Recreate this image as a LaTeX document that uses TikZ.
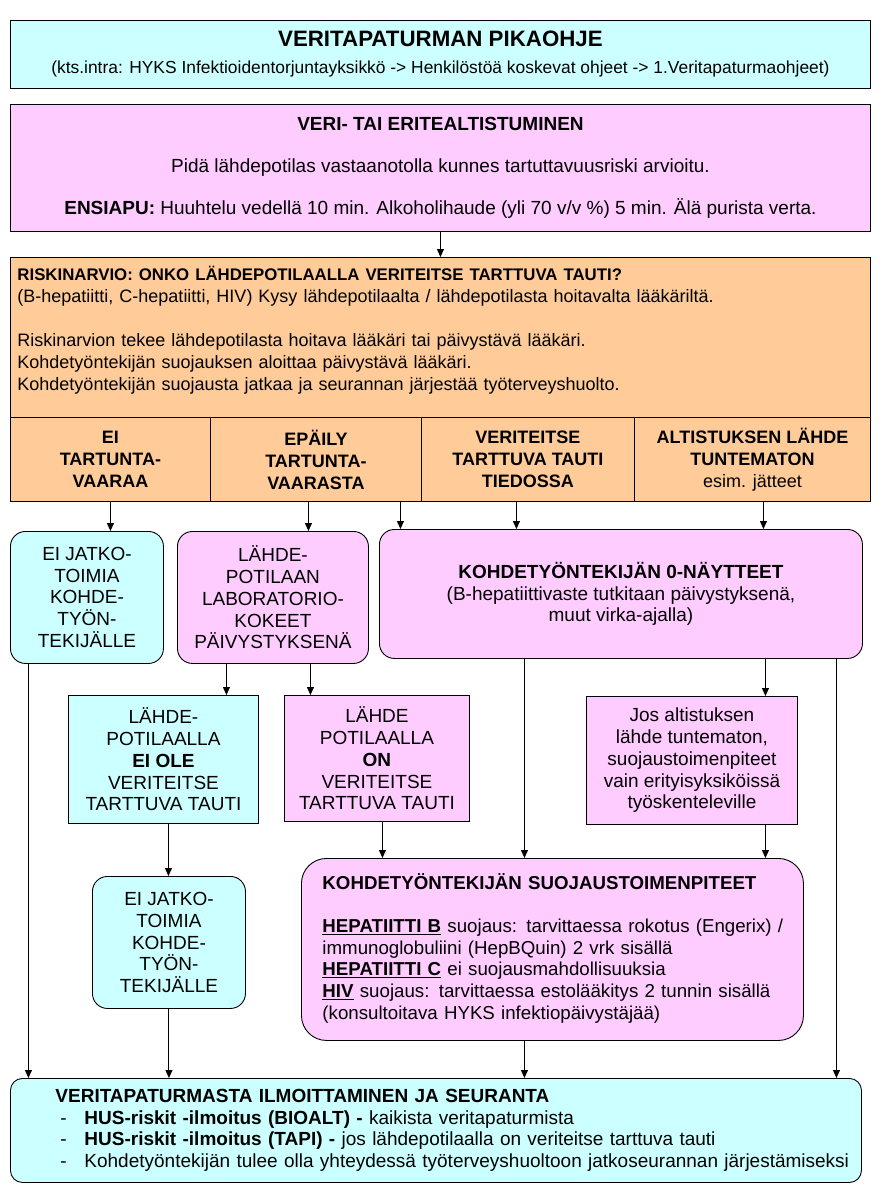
\documentclass[tikz,border=0pt]{standalone}
\usepackage{fontspec}
\setmainfont{Liberation Sans}
\usepackage{xcolor}
\definecolor{lightCyan}{HTML}{CCFFFF}
\definecolor{lightPink}{HTML}{FFCCFF}
\definecolor{lightOrange}{HTML}{FFCC99}
\usepackage{tikz}
\usetikzlibrary{
    arrows.meta,
    positioning
}
\tikzset{
    % Base style for all boxes
    box base/.style={
        draw=black,
        line width=0.9pt,
        align=center,
        inner sep=0pt,
        text=black,
        font=\fontsize{19}{22}\selectfont,
    },
    % Box colours
    cyanbox/.style={box base, fill=lightCyan},
    pinkbox/.style={box base, fill=lightPink},
    orangebox/.style={box base, fill=lightOrange},
    % Rounded variant for the action boxes
    round box/.style={rounded corners=15pt},
    % Text in the middle boxes
    big text/.style={font=\fontsize{19}{21.7}\selectfont},
    % Column headers in the risk box
    col head/.style={orangebox, font=\fontsize{18}{22}\selectfont\bfseries},
    % Arrow style
    arrow/.style={
        -{Triangle[length=8pt, width=7pt]},
        line width=1pt,
    },
}

\begin{document}
\begin{tikzpicture}[x=1pt, y=-1pt]
    \useasboundingbox (0,0) rectangle (882,1189);

    % header and exposure
    \node (title) [cyanbox, anchor=north west, minimum width=860pt, minimum height=68pt] at (10,20)
        {{\bfseries\fontsize{22.3}{26}\selectfont VERITAPATURMAN PIKAOHJE}\\[5pt]
         {\fontsize{17.4}{20}\selectfont (kts.intra: HYKS Infektioidentorjuntayksikkö -> Henkilöstöä koskevat ohjeet -> 1.Veritapaturmaohjeet)}};
    \node (veri) [pinkbox, anchor=north west, minimum width=860pt, minimum height=127pt] at (10,104)
        {\textbf{VERI- TAI ERITEALTISTUMINEN}\\[20pt]
         Pidä lähdepotilas vastaanotolla kunnes tartuttavuusriski arvioitu.\\[20pt]
         \textbf{ENSIAPU:} Huuhtelu vedellä 10 min. Alkoholihaude (yli 70 v/v \%) 5 min. Älä purista verta.};

    % risk assessment
    \node (risk) [orangebox, anchor=north west, minimum width=860pt, minimum height=160pt, text width=846pt, align=left,
                  font=\fontsize{18}{22}\selectfont] at (10,257)
        {{\bfseries\fontsize{16.8}{22}\selectfont RISKINARVIO: ONKO LÄHDEPOTILAALLA VERITEITSE TARTTUVA TAUTI?}\\
         (B-hepatiitti, C-hepatiitti, HIV) Kysy lähdepotilaalta / lähdepotilasta hoitavalta lääkäriltä.\\[22pt]
         Riskinarvion tekee lähdepotilasta hoitava lääkäri tai päivystävä lääkäri.\\
         Kohdetyöntekijän suojauksen aloittaa päivystävä lääkäri.\\
         Kohdetyöntekijän suojausta jatkaa ja seurannan järjestää työterveyshuolto.\\[-10pt]\strut};
    \node (colA) [col head, anchor=north west, minimum width=200pt, minimum height=84pt] at (10,417)
        {EI\\TARTUNTA-\\VAARAA};
    \node (colB) [col head, anchor=north west, minimum width=211pt, minimum height=84pt] at (210,417)
        {EPÄILY\\TARTUNTA-\\VAARASTA};
    \node (colC) [col head, anchor=north west, minimum width=213pt, minimum height=84pt] at (421,417)
        {VERITEITSE\\TARTTUVA TAUTI\\TIEDOSSA};
    \node (colD) [col head, anchor=north west, minimum width=236pt, minimum height=84pt] at (634,417)
        {ALTISTUKSEN LÄHDE\\TUNTEMATON\\\mdseries esim. jätteet};

    % first actions
    \node (eij1) [cyanbox, round box, big text, anchor=north west, minimum width=153pt, minimum height=132pt] at (10,531)
        {EI JATKO-\\TOIMIA\\KOHDE-\\TYÖN-\\TEKIJÄLLE};
    \node (lab) [pinkbox, round box, big text, anchor=north west, minimum width=191pt, minimum height=132pt] at (177,531)
        {LÄHDE-\\POTILAAN\\LABORATORIO-\\KOKEET\\PÄIVYSTYKSENÄ};
    \node (zero) [pinkbox, round box, big text, anchor=north west, minimum width=483pt, minimum height=129pt] at (379,529)
        {\textbf{KOHDETYÖNTEKIJÄN 0-NÄYTTEET}\\
         (B-hepatiittivaste tutkitaan päivystyksenä,\\
         muut virka-ajalla)};

    % laboratory results
    \node (eiole) [cyanbox, big text, anchor=north west, minimum width=190pt, minimum height=128pt] at (68,695)
        {LÄHDE-\\POTILAALLA\\\textbf{EI OLE}\\VERITEITSE\\TARTTUVA TAUTI};
    \node (on) [pinkbox, big text, anchor=north west, minimum width=185pt, minimum height=126pt] at (284,695)
        {LÄHDE\\POTILAALLA\\\textbf{ON}\\VERITEITSE\\TARTTUVA TAUTI};
    \node (jos) [pinkbox, big text, anchor=north west, minimum width=211pt, minimum height=128pt] at (586,696)
        {Jos altistuksen\\lähde tuntematon,\\suojaustoimenpiteet\\vain erityisyksiköissä\\työskenteleville};

    % follow-up
    \node (eij2) [cyanbox, round box, big text, anchor=north west, minimum width=153pt, minimum height=132pt] at (92,876)
        {EI JATKO-\\TOIMIA\\KOHDE-\\TYÖN-\\TEKIJÄLLE};
    \node (suoj) [pinkbox, rounded corners=25pt, anchor=north west, minimum width=502pt, minimum height=182pt, text width=460pt, align=left,
                  font=\fontsize{18.7}{21.7}\selectfont] at (301,858)
        {\begin{tabular}{@{}l@{}}
         \textbf{KOHDETYÖNTEKIJÄN SUOJAUSTOIMENPITEET}\\[21.7pt]
         \textbf{\underline{HEPATIITTI B}} suojaus: tarvittaessa rokotus (Engerix) /\\
         immunoglobuliini (HepBQuin) 2 vrk sisällä\\
         \textbf{\underline{HEPATIITTI C}} ei suojausmahdollisuuksia\\
         \textbf{\underline{HIV}} suojaus: tarvittaessa estolääkitys 2 tunnin sisällä\\
         (konsultoitava HYKS infektiopäivystäjää)
         \end{tabular}};
    \node (ilmo) [cyanbox, rounded corners=12pt, anchor=north west, minimum width=851pt, minimum height=104pt, text width=761pt, align=left,
                  font=\fontsize{19}{21.5}\selectfont] at (10,1078)
        {\begin{tabular}{@{}p{29pt}@{}l@{}}
         \multicolumn{2}{@{}l@{}}{\textbf{VERITAPATURMASTA ILMOITTAMINEN JA SEURANTA}}\\
         \hspace*{5pt}- & \textbf{HUS-riskit -ilmoitus (BIOALT) -} kaikista veritapaturmista\\
         \hspace*{5pt}- & \textbf{HUS-riskit -ilmoitus (TAPI) -} jos lähdepotilaalla on veriteitse tarttuva tauti\\
         \hspace*{5pt}- & Kohdetyöntekijän tulee olla yhteydessä työterveyshuoltoon jatkoseurannan järjestämiseksi
         \end{tabular}};

    \draw [arrow] (veri.south) -- (risk.north);
    \draw [arrow] (colA.south) -- (colA.south |- eij1.north);
    \draw [arrow] ([xshift=-7.5pt]colB.south) -- ([xshift=-7.5pt]colB.south |- lab.north);
    \draw [arrow] ([xshift=84.5pt]colB.south) -- ([xshift=84.5pt]colB.south |- zero.north);
    \draw [arrow] ([xshift=-11.5pt]colC.south) -- ([xshift=-11.5pt]colC.south |- zero.north);
    \draw [arrow] ([xshift=11pt]colD.south) -- ([xshift=11pt]colD.south |- zero.north);
    \draw [arrow] ([xshift=-46.5pt]lab.south) -- ([xshift=-46.5pt]lab.south |- eiole.north);
    \draw [arrow] ([xshift=37.5pt]lab.south) -- ([xshift=37.5pt]lab.south |- on.north);
    \draw [arrow] ([xshift=144.5pt]zero.south) -- ([xshift=144.5pt]zero.south |- jos.north);
    \draw [arrow] ([xshift=-96.5pt]zero.south) -- ([xshift=-96.5pt]zero.south |- suoj.north);
    \draw [arrow] ([xshift=215.5pt]zero.south) -- ([xshift=215.5pt]zero.south |- ilmo.north);
    \draw [arrow] ([xshift=-58.5pt]eij1.south) -- ([xshift=-58.5pt]eij1.south |- ilmo.north);
    \draw [arrow] ([xshift=5pt]eiole.south) -- ([xshift=5pt]eiole.south |- eij2.north);
    \draw [arrow] ([xshift=5.5pt]on.south) -- ([xshift=5.5pt]on.south |- suoj.north);
    \draw [arrow] ([xshift=73.5pt]jos.south) -- ([xshift=73.5pt]jos.south |- suoj.north);
    \draw [arrow] (eij2.south) -- (eij2.south |- ilmo.north);
    \draw [arrow] ([xshift=-28pt]suoj.south) -- ([xshift=-28pt]suoj.south |- ilmo.north);
\end{tikzpicture}
\end{document}
